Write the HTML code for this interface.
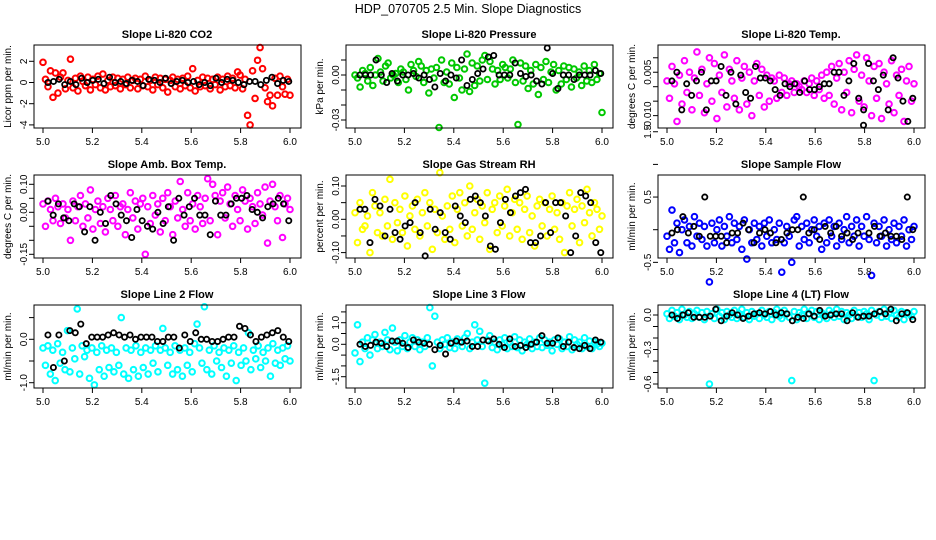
<!DOCTYPE html>
<html><head><meta charset="utf-8"><style>
html,body{margin:0;padding:0;background:#fff;}
svg{display:block;font-family:"Liberation Sans",sans-serif;}
</style></head><body>
<svg id="chart" width="936" height="540" viewBox="0 0 936 540">
<text x="468" y="13" text-anchor="middle" font-size="12.5">HDP_070705  2.5 Min. Slope Diagnostics</text>
</svg>
<script>
// ---- data ----
const xTicks = [5.0, 5.2, 5.4, 5.6, 5.8, 6.0];
const xTickLabels = ["5.0", "5.2", "5.4", "5.6", "5.8", "6.0"];
const co2Vals = [1.9,0.3,-0.4,1.1,-1.4,0.9,-1,0.5,0.9,-0.6,0.2,2.2,-0.5,0.4,-0.8,0.6,0.1,-0.3,0.5,-0.7,0.3,-0.2,0.6,-0.5,0.8,-0.7,0.2,-0.4,0.5,-0.3,0.4,-0.6,0.3,-0.2,0.5,-0.5,0.2,0.4,-0.6,0.3,-0.3,0.6,-0.4,0.2,-0.7,0.5,-0.2,0.4,-0.5,0.3,-0.9,0.2,0.5,-0.4,0.3,-0.6,0.4,-0.3,0.6,-0.5,1.3,-0.8,0.2,-0.4,0.5,-0.3,0.4,-0.6,0.3,-0.2,0.5,-0.7,0.3,-0.4,0.6,-0.3,0.4,-0.5,1.0,0.7,-0.6,0.3,-3.1,-4.0,1.1,-1.5,2.1,3.3,1.3,-0.5,-1.8,-1.2,-2.2,0.4,-1.2,0.6,-0.4,-1.1,0.3,-1.2];
const co2Black = [0,0.1,0.3,-0.2,0.1,-0.2,0.4,0,0.2,0.3,-0.1,0.5,0,0.1,-0.1,0.2,0.1,-0.3,0.3,0.2,0,0.4,-0.1,0.1,0.2,0,0.1,-0.2,0,-0.3,0.4,0,0.3,0.2,0,-0.2,0.1,0.1,-0.2,0.2,0.5,-0.1,0.2,0.1];
const presVals = [0,-0.002,-0.008,0.003,0.001,-0.004,0.005,-0.007,0,0.011,0.002,-0.004,0.006,0.008,-0.002,0,0.001,-0.005,0.004,0.002,-0.003,-0.01,0.007,0.003,-0.001,0.009,0.006,-0.005,0.003,-0.012,0.004,-0.002,0.005,-0.035,0.01,-0.005,0.002,-0.006,0.008,-0.015,0.005,-0.002,-0.01,0.004,0.014,-0.011,0.008,-0.007,0.006,-0.004,0.01,0.013,-0.003,0.009,0.004,-0.006,0.003,-0.003,0.007,0.005,-0.002,0.004,0.01,-0.005,-0.033,0.008,-0.004,0.006,-0.009,0.003,-0.006,0.007,-0.013,0.005,-0.003,0.009,-0.005,0.002,0.007,-0.01,0.003,-0.006,0.006,-0.003,0.005,-0.008,0.004,-0.002,0.002,-0.007,0.006,-0.004,0.003,-0.005,0.007,-0.003,0.001,-0.025];
const presBlack = [0,0,0,0.01,0,-0.005,0.001,-0.004,0,0,0.001,-0.002,0,-0.003,-0.008,0.001,-0.004,0,-0.002,0.01,-0.007,-0.003,0.001,0.004,0.012,0.013,0,0,0,0.008,0.001,-0.001,0,-0.004,-0.006,0.018,0.001,-0.009,0,0,-0.003,0,0,0,0.003,0.001];
const tempVals = [0.002,-0.004,0.007,0.001,-0.012,0.004,-0.006,0.009,-0.002,0.005,-0.008,0.003,0.012,-0.003,0.006,-0.009,0.001,0.01,-0.005,0.008,-0.011,0.004,-0.002,0.011,-0.007,0.006,0.002,-0.004,0.009,-0.008,0.003,0.007,-0.006,0.005,-0.01,0.002,0.008,-0.003,0.006,-0.007,0.004,-0.005,0.003,0.002,-0.004,0.004,-0.002,0.003,-0.003,0.001,0.002,-0.002,0.001,0,-0.001,0.002,-0.002,0.001,0.003,-0.003,0.002,-0.001,0.004,-0.004,0.005,-0.003,0.007,-0.006,0.003,0.008,-0.008,0.005,-0.002,0.009,-0.009,0.006,0.011,-0.005,0.004,-0.007,0.01,0.002,-0.01,0.007,-0.004,0.008,-0.011,0.005,0.001,-0.006,0.009,-0.009,0.004,-0.003,0.006,-0.012,0.002,0.007,-0.005,0.001];
const tempBlack = [0.002,0.005,-0.008,0.001,-0.003,0.002,0.005,-0.008,0.002,0.002,0.007,-0.003,0.005,-0.006,0.004,-0.002,-0.004,0.007,0.003,0.003,0.002,-0.001,-0.003,0.001,0,0.001,-0.002,0.002,-0.001,-0.001,0,0.001,0.001,0.005,0.005,-0.003,0.002,0.008,-0.004,-0.008,0.008,0.002,-0.001,0.004,-0.008,0.01,0.003,-0.005,-0.012,-0.004];
const ambVals = [0.03,-0.05,0.04,0.01,-0.03,0.05,0.02,-0.04,0.03,-0.02,0.01,-0.1,0.04,-0.03,0.02,0.06,-0.05,0.03,-0.02,0.08,-0.06,0.01,0.04,-0.04,0.02,-0.07,0.05,0.01,-0.03,0.06,-0.05,0.02,0.03,-0.08,0.01,0.07,-0.02,0.04,-0.06,0.03,0.05,-0.15,0.02,-0.04,0.06,-0.01,0.03,-0.07,0.05,-0.03,0.07,0.02,-0.08,0.04,-0.02,0.11,0.01,-0.05,0.07,-0.03,0.03,-0.06,0.06,0.02,-0.04,0.05,0.12,-0.03,0.1,0.06,-0.08,0.04,0.07,-0.02,0.09,0.03,-0.05,0.06,0.01,-0.03,0.08,0.04,-0.06,0.05,0.02,-0.04,0.07,0.03,-0.01,0.09,-0.11,0.04,0.1,0.02,-0.03,0.06,-0.09,0.03,0.05,0.01];
const ambBlack = [0.04,-0.01,0.03,-0.02,-0.03,0.03,0.02,-0.07,0.02,-0.1,0,-0.04,0.06,0.03,-0.01,-0.03,-0.09,0.01,-0.03,-0.05,-0.06,0,-0.04,0.02,-0.1,0.05,-0.01,0.02,0.05,-0.01,-0.01,-0.08,0.04,-0.01,-0.01,0.03,0.05,0.05,0.06,0.01,0,-0.02,0.02,0.03,0.05,0.03,-0.03];
const rhVals = [0.02,-0.07,0.05,-0.03,-0.02,0.01,-0.1,0.08,0.04,-0.04,0.02,-0.05,0.06,-0.02,0.12,-0.06,0.05,-0.01,0.03,-0.04,0.07,-0.08,0.01,0.04,-0.03,0.06,-0.05,0.02,0.08,-0.02,0.05,-0.09,0.03,-0.04,0.14,0.01,-0.06,0.04,-0.03,0.07,-0.07,0.03,0.08,-0.02,0.05,-0.05,0.1,-0.03,0.02,0.06,-0.06,0.04,-0.01,0.08,-0.09,0.03,0.05,-0.04,0.07,-0.02,0.04,0.09,-0.05,0.02,0.06,-0.03,0.05,-0.06,0.03,0.07,-0.04,0.01,-0.08,0.04,0.06,-0.02,0.05,-0.05,0.03,0.07,-0.03,0.02,-0.06,0.05,-0.1,0.04,0.08,-0.02,0.03,0.06,-0.07,0.04,-0.01,0.09,0.02,-0.05,0.05,0.03,-0.03,0.01];
const rhBlack = [0.03,0.03,-0.07,0.06,0.04,-0.05,0.03,-0.04,-0.06,-0.02,-0.01,0.05,-0.04,-0.11,0.03,-0.03,0.02,-0.04,-0.06,0.04,0.01,-0.01,0.06,0.07,0.05,0.01,-0.08,-0.09,-0.01,0.06,0.02,0.07,0.08,0.09,-0.07,-0.07,-0.05,0.05,-0.04,0.05,0.05,0.01,-0.1,-0.05,0.08,0.07,0.05,-0.07,-0.1];
const sampleVals = [-0.1,-0.3,0.3,-0.2,0.1,-0.35,0,0.15,-0.2,0.05,-0.25,0.2,-0.1,0.1,-0.15,0.05,-0.25,-0.8,0.1,-0.2,0,0.15,-0.25,0.05,-0.1,0.2,-0.2,0.1,-0.15,0.05,-0.3,0.15,-0.45,0,-0.2,0.1,-0.15,0.05,-0.25,0.1,-0.1,0.15,-0.2,0,-0.15,0.1,-0.65,-0.2,0.05,-0.1,-0.5,0.15,0.2,-0.25,0.05,-0.15,0.1,-0.2,0,0.15,-0.1,0.05,-0.3,0.1,-0.2,0.15,-0.1,0.05,-0.25,0.1,-0.15,0,0.2,-0.2,0.05,-0.1,0.15,-0.25,0.05,-0.1,0.2,-0.15,-0.7,0.1,-0.2,0.05,-0.1,0.15,-0.25,0,-0.15,0.1,-0.2,0.05,-0.1,0.15,-0.25,0,-0.15,0.05];
const sampleBlack = [-0.05,0,0.2,-0.05,0.05,-0.1,0.5,-0.1,-0.1,-0.1,-0.2,-0.05,-0.05,0.1,0,-0.2,-0.05,0,-0.05,-0.2,-0.15,-0.05,0,0,0.5,-0.05,0,-0.15,0.05,-0.05,0.05,-0.1,-0.05,-0.15,-0.05,1.6,-0.05,0.05,-0.1,-0.05,-0.1,-0.1,-0.15,0.5,0];
const line2Vals = [-0.2,-0.6,-0.15,-0.8,-0.25,-0.95,-0.1,-0.55,-0.3,-0.7,0.2,-0.75,-0.2,-0.45,0.7,-0.8,-0.15,-0.4,-0.25,-0.9,-0.2,-1.05,-0.3,-0.7,-0.15,-0.85,-0.25,-0.65,-0.2,-0.75,-0.3,-0.6,0.5,-0.8,-0.2,-0.9,-0.25,-0.7,-0.15,-0.85,-0.3,-0.65,-0.2,-0.8,-0.25,-0.55,-0.15,-0.75,-0.25,0.25,-0.2,-0.6,-0.3,-0.8,-0.15,-0.7,-0.25,-0.85,-0.2,-0.6,-0.3,-0.75,-0.1,0.35,-0.2,-0.55,0.75,-0.7,-0.25,-0.8,-0.15,-0.5,-0.3,-0.65,-0.2,-0.85,-0.25,-0.55,-0.15,-0.95,-0.3,-0.6,-0.2,-0.5,0.15,-0.7,-0.25,-0.45,-0.15,-0.65,-0.3,-0.5,-0.2,-0.85,-0.1,-0.55,-0.25,-0.6,-0.2,-0.45,-0.15,-0.5];
const line2Black = [0.1,-0.65,0.1,-0.5,0.2,0.15,0.35,-0.1,0.05,0.05,0.05,0.1,0.15,0.1,0.05,0.1,0,0.05,0.05,0.05,-0.05,-0.05,0.05,0.05,-0.2,0.1,-0.05,0.15,0,0,-0.05,-0.05,0,0.05,0.05,0.3,0.25,0.1,-0.05,0.05,0.1,0.15,0.2,0.05,-0.05];
const line3Vals = [-0.4,0.9,-0.8,0.1,-0.2,0.3,-0.5,0.2,0.45,-0.2,0.1,-0.1,0.55,0.2,-0.25,0.75,0.1,-0.3,0.2,-0.1,0.4,-0.2,0.1,0.3,-0.1,0.2,-0.25,0.1,-0.1,0.3,1.7,-1.0,1.3,0.1,-0.2,0.2,0,0.3,-0.15,0.1,-0.2,0.25,0.1,-0.1,0.3,0.5,-0.2,0.1,0.9,0.2,0.6,-0.1,-1.8,0.2,0.4,-0.15,0.1,-0.25,0.2,0,0.3,-0.2,0.1,-0.1,0.35,-0.15,0.2,-0.3,0.1,0,0.25,-0.2,0.1,-0.1,0.3,-0.15,0.2,-0.05,0.1,-0.3,0.2,0,0.25,-0.2,0.1,-0.1,0.35,-0.25,0.2,0,0.1,-0.2,0.3,-0.1,0.15,-0.2,0.1,0,-0.1,0.05];
const line3Black = [0,-0.1,-0.05,0.1,0.05,-0.1,0.15,0.15,0.05,-0.15,0.2,0.1,0.05,0,-0.25,-0.05,-0.45,0.05,0.15,0.1,0.15,-0.1,-0.1,0.2,0.15,0.25,0,-0.15,0.25,-0.1,-0.05,-0.15,0,0.1,0.4,0.05,0.05,0.3,-0.1,0.1,-0.15,-0.2,-0.05,-0.2,0.2,0.1];
const line4Vals = [0.01,-0.03,0.04,-0.01,0.02,-0.04,0.05,0,-0.02,0.03,-0.03,0.01,0.04,-0.02,0.02,-0.04,0.03,-0.6,0.01,-0.03,0.05,-0.01,0.02,-0.04,0.03,0,-0.02,0.04,-0.03,0.01,0.05,-0.02,0.02,-0.04,0.03,-0.01,0.01,-0.03,0.04,0,-0.02,0.03,-0.04,0.02,0.05,-0.01,-0.03,0.04,0.01,-0.02,-0.57,0.03,-0.04,0.02,0,0.05,-0.03,0.01,0.04,-0.02,0.03,-0.04,0.02,0,-0.03,0.04,0.01,-0.02,0.05,-0.01,0.03,-0.04,0.02,0,-0.03,0.04,-0.01,0.02,-0.02,0.03,0.01,-0.04,0.04,-0.57,0,0.03,-0.02,0.05,-0.01,0.02,-0.03,0.04,0,-0.02,0.03,-0.04,0.02,0.01,-0.01,0.03];
const line4Black = [0,-0.03,0,0.02,-0.02,-0.02,-0.02,-0.01,0.05,-0.05,-0.01,0.02,0,-0.03,-0.01,0.01,0.02,0.01,0.03,0,0.02,0.01,-0.05,-0.02,-0.03,0.01,-0.01,0.04,-0.01,0,0.01,0.01,-0.05,0.02,-0.02,-0.01,-0.01,0.01,0.03,0.01,0.05,-0.05,0.01,0.02,-0.04];

// ---- layout (not data) ----
const panels = [
 {id:"co2", title:"Slope Li-820 CO2", ylab:"Licor ppm per min.", ox:0, top:45, z:82.5, ppu:10.6, color:"#ff0000", vals:co2Vals, blk:co2Black, ticks:[-4,-2,0,2], tl:["-4","-2","0","2"]},
 {id:"pressure", title:"Slope Li-820 Pressure", ylab:"kPa per min.", ox:312, top:45, z:75, ppu:1500, color:"#00c800", vals:presVals, blk:presBlack, ticks:[0.01,0,-0.01,-0.02,-0.03], tl:["","0.00","","","-0.03"]},
 {id:"temp", title:"Slope Li-820 Temp.", ylab:"degrees C per min.", ox:624, top:45, z:86.7, ppu:2893, color:"#ff00ff", vals:tempVals, blk:tempBlack, ticks:[0.01,0.005,0,-0.005,-0.01], tl:["","0.005","","","-0.010"]},
 {id:"amb-box-temp", title:"Slope Amb. Box Temp.", ylab:"degrees C per min.", ox:0, top:175, z:212.3, ppu:280, color:"#ff00ff", vals:ambVals, blk:ambBlack, ticks:[0.1,0.05,0,-0.05,-0.1,-0.15], tl:["0.10","","0.00","","","-0.15"]},
 {id:"gas-rh", title:"Slope Gas Stream RH", ylab:"percent per min.", ox:312, top:175, z:219.3, ppu:333, color:"#ffff00", vals:rhVals, blk:rhBlack, ticks:[0.1,0.05,0,-0.05,-0.1], tl:["0.10","","0.00","","-0.10"]},
 {id:"sample-flow", title:"Slope Sample Flow", ylab:"ml/min per min.", ox:624, top:175, z:229.7, ppu:65.3, color:"#0000ff", vals:sampleVals, blk:sampleBlack, ticks:[1.5,1,0.5,0,-0.5], tl:["1.5","","0.5","","-0.5"]},
 {id:"line2-flow", title:"Slope Line 2 Flow", ylab:"ml/min per min.", ox:0, top:305, z:339.3, ppu:43.4, color:"#00ffff", vals:line2Vals, blk:line2Black, ticks:[0.5,0,-0.5,-1], tl:["","0.0","","-1.0"]},
 {id:"line3-flow", title:"Slope Line 3 Flow", ylab:"ml/min per min.", ox:312, top:305, z:344.3, ppu:21.6, color:"#00ffff", vals:line3Vals, blk:line3Black, ticks:[1.5,1,0.5,0,-0.5,-1,-1.5], tl:["","1.0","","0.0","","","-1.5"]},
 {id:"line4-flow", title:"Slope Line 4 (LT) Flow", ylab:"ml/min per min.", ox:624, top:305, z:315, ppu:115, color:"#00ffff", vals:line4Vals, blk:line4Black, ticks:[0,-0.1,-0.2,-0.3,-0.4,-0.5,-0.6], tl:["0.0","","","-0.3","","","-0.6"]}
];
const NS = "http://www.w3.org/2000/svg";
const svg = document.getElementById("chart");
function mk(tag, attrs, parent){ const e=document.createElementNS(NS,tag); for(const k in attrs) e.setAttribute(k,attrs[k]); (parent||svg).appendChild(e); return e; }
const BOXL=34, BOXR=301, BOXH=83;
panels.forEach(p => {
  const g = mk("g", {});
  
  
  const xs = v => p.ox + 43 + (v - 5) * 247;
  const ys = v => p.z - v * p.ppu;
  const bottom = p.top + BOXH;
  const t = mk("text", {x:p.ox+167, y:p.top-7, "text-anchor":"middle", "font-size":"11", "font-weight":"bold"}, g);
  t.textContent = p.title;
  
  
  const n = p.vals.length;
  p.vals.forEach((v,i) => {
    const c = mk("circle", {cx:xs(5 + i/(n-1)), cy:ys(v), r:2.8, fill:"none", stroke:p.color, "stroke-width":2}, g);
    
    
  });
  const m = p.blk.length;
  p.blk.forEach((v,i) => {
    const c = mk("circle", {cx:xs(5.02 + 0.975*i/(m-1)), cy:ys(v), r:2.6, fill:"none", stroke:"#000", "stroke-width":1.8}, g);
    
    
  });
  const b = mk("rect", {x:p.ox+BOXL, y:p.top, width:BOXR-BOXL, height:BOXH, fill:"none", stroke:"#000", "stroke-width":1}, g);
  
  
  xTicks.forEach((v,i) => {
    mk("line", {x1:xs(v), x2:xs(v), y1:bottom, y2:bottom+5, stroke:"#000"}, g);
    const tl = mk("text", {x:xs(v), y:bottom+17, "text-anchor":"middle", "font-size":"10"}, g);
    tl.textContent = xTickLabels[i];
    
    
  });
  p.ticks.forEach((v,i) => {
    const y = ys(v);
    mk("line", {x1:p.ox+BOXL-5, x2:p.ox+BOXL, y1:y, y2:y, stroke:"#000"}, g);
    if (p.tl[i]) {
      const tl = mk("text", {x:p.ox+27, y:y, "text-anchor":"middle", "font-size":"10", transform:`rotate(-90 ${p.ox+27} ${y})`}, g);
      tl.textContent = p.tl[i];
      
      
    }
  });
  const cy = p.top + BOXH/2;
  const yt = mk("text", {x:p.ox+11, y:cy, "text-anchor":"middle", "font-size":"10", transform:`rotate(-90 ${p.ox+11} ${cy})`}, g);
  yt.textContent = p.ylab;
  
  
});
</script>
</body></html>
